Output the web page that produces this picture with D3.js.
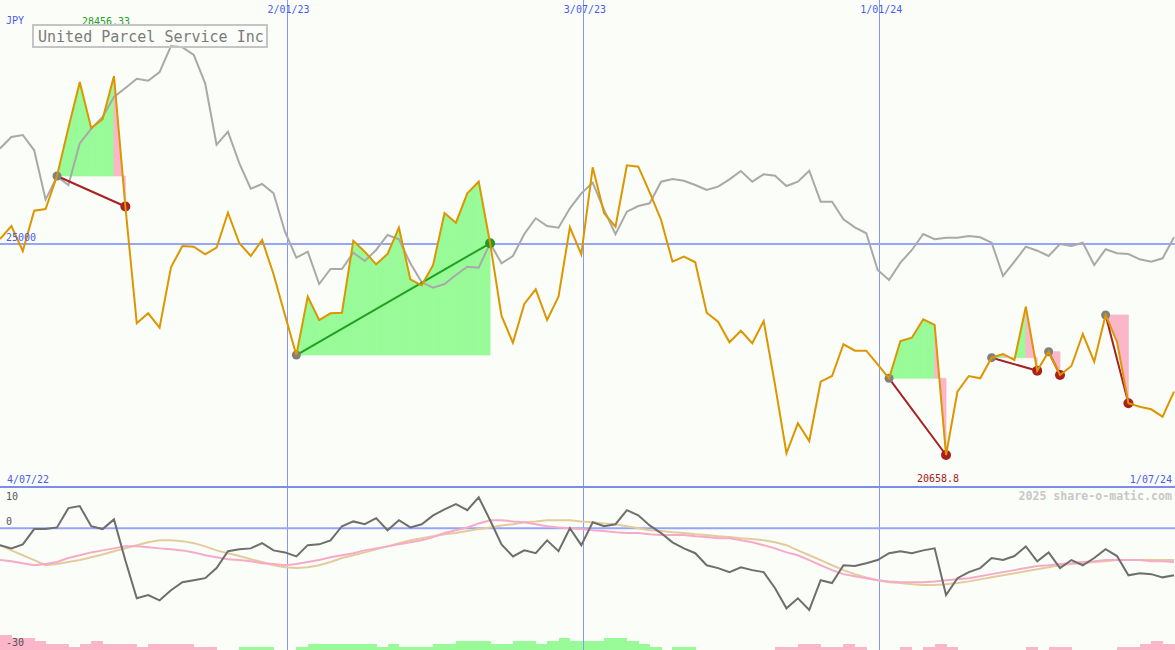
<!DOCTYPE html>
<html><head><meta charset="utf-8">
<script src="https://cdn.jsdelivr.net/npm/d3@7"></script>
<style>html,body{margin:0;padding:0;background:#fbfdf9;overflow:hidden}</style>
</head><body><svg id="c" width="1175" height="650"></svg>
<script>
// ---------- data ----------
const title = "United Parcel Service Inc";
const currency = "JPY";
const startDate = "2022-07-10";           // first weekly point
const startLabel = "4/07/22";
const endLabel = "1/07/24";
const gridDates = ["2023-01-02", "2023-07-03", "2024-01-01"];
const gridLabels = ["2/01/23", "3/07/23", "1/01/24"];
const refLevel = 25000;
const priceMin = 20658.8;
const priceMax = 28456.33;

// weekly closing price (JPY)
const price = [
 25103,25370,24856,25685,25720,26399,27387,28333,27387,27566,
 28456.33,25771,23369,23574,23278,24521,24959,24945,24788,24924,
 25644,25015,24753,25082,24377,23539,22716,23916,23436,23574,
 23587,25068,24842,24582,24794,25335,24274,24150,24568,25638,
 25438,26043,26282,25015,23519,22969,23766,24068,23436,23916,
 25344,24788,26578,25632,25356,26619,26591,26064,25494,24636,
 24739,24624,23587,23401,22978,23216,22957,23416,22099,20694,
 21311,20947,22167,22284,22937,22805,22805,22525,22237,23004,
 23072,23451,23334,20658.8,21961,22284,22237,22661,22737,22614,
 23710,22393,22784,22305,22490,23148,22579,23539,22990,21723,
 21653,21599,21447,21961
];
// comparison line (rebased)
const compare = [
 26965,27202,27243,26928,25914,26389,26214,27072,27366,27613,
 28024,28210,28399,28360,28535,29074,29047,28889,28306,27043,
 27311,26660,26136,26235,26043,25253,24718,24842,24177,24486,
 24486,24821,24650,24877,25185,25097,24603,24212,24101,24177,
 24362,24533,24512,25015,24603,24753,25206,25529,25370,25335,
 25735,26043,26261,25700,25200,25665,25782,25837,26282,26337,
 26302,26214,26111,26179,26331,26502,26282,26434,26405,26193,
 26282,26508,25870,25870,25508,25344,25220,24465,24259,24615,
 24877,25206,25097,25130,25130,25165,25138,25027,24342,24636,
 24945,24862,24753,25000,24959,25027,24568,24891,24809,24794,
 24685,24636,24706,25138
];
// trades: entry / exit week index
const tradeEntry = [5, 26, 78, 87, 92, 97];
const tradeExit  = [11, 43, 83, 91, 93, 99];

// lower panel
const oscTicks = [10, 0, -30];
const osc = [
 -4.2,-5,-4,-0.2,-0.2,0.2,5,5.5,0.5,-0.2,
 2.2,-8,-17.4,-16.6,-17.9,-15.4,-13.4,-12.9,-12.4,-9.9,
 -5.7,-5.2,-5,-3.7,-5.5,-6,-7,-4.2,-4,-3,
 0.5,1.7,1,2.5,-0.5,2,0.2,1,3.2,4.7,
 6,4.5,7.7,2,-4,-7,-5.5,-6.2,-3,-5.7,
 0,-4.2,1.5,0.5,1,4.5,3.2,0.7,-1.2,-3.5,
 -5,-6.2,-9.2,-9.9,-10.9,-9.7,-10.4,-10.9,-14.9,-19.9,
 -17.4,-20.3,-12.9,-13.6,-9.2,-9.4,-8.7,-7.9,-6.2,-5.7,
 -6.2,-5.5,-5,-16.6,-12.4,-10.9,-9.9,-7.4,-7.9,-6.9,
 -4.5,-8.2,-6,-9.9,-7.9,-9.2,-7.4,-5.2,-6.9,-11.7,
 -11.2,-11.4,-12.2,-11.7
];
const oscPink = [
 -7.9,-8.2,-8.7,-9.2,-8.9,-8.4,-7.4,-6.7,-6.0,-5.5,
 -5.0,-4.5,-4.5,-4.7,-5.0,-5.2,-5.5,-6.0,-6.7,-7.2,
 -7.7,-7.9,-8.2,-8.7,-8.9,-9.2,-8.9,-8.4,-7.9,-7.2,
 -6.7,-6.2,-5.5,-5.0,-4.5,-4.0,-3.5,-3.0,-2.2,-1.2,
 -0.5,0.2,1.2,2.0,2.0,1.7,1.5,1.0,0.5,0.2,
 0,-0.2,-0.5,-0.7,-1.0,-1.2,-1.2,-1.5,-1.7,-1.7,
 -1.7,-2.0,-2.2,-2.5,-2.5,-3.0,-3.5,-4.2,-5.0,-6.0,
 -6.7,-7.9,-9.2,-10.4,-11.4,-11.9,-12.4,-12.9,-13.2,-13.4,
 -13.4,-13.4,-13.2,-12.9,-12.7,-12.4,-11.9,-11.4,-10.9,-10.4,
 -9.9,-9.4,-9.2,-8.9,-8.7,-8.4,-8.2,-7.9,-7.9,-7.9,
 -7.9,-8.2,-8.2,-8.4
];
const oscTan = [
 -4.2,-5.5,-6.7,-7.9,-9.2,-8.9,-8.4,-7.9,-7.2,-6.5,
 -5.7,-5.0,-4.2,-3.5,-3.0,-3.0,-3.2,-3.7,-4.5,-5.5,
 -6.2,-6.9,-7.7,-8.4,-9.2,-9.7,-9.9,-9.7,-9.2,-8.4,
 -7.4,-6.7,-6.0,-5.2,-4.5,-3.7,-3.0,-2.5,-2.0,-1.5,
 -1.2,-0.7,-0.2,0.2,0.7,1.0,1.5,1.7,2.0,2.0,
 2.0,1.7,1.5,1.2,1.0,0.5,0,-0.5,-0.7,-1.0,
 -1.2,-1.5,-1.7,-2.0,-2.2,-2.5,-2.7,-3.0,-3.5,-4.2,
 -5.5,-6.7,-7.9,-9.2,-10.4,-11.4,-12.2,-12.9,-13.4,-13.6,
 -13.9,-14.1,-14.1,-13.9,-13.6,-13.2,-12.7,-12.2,-11.7,-11.2,
 -10.7,-10.2,-9.7,-9.2,-8.9,-8.7,-8.4,-8.2,-7.9,-7.9,
 -7.9,-7.9,-7.9,-7.9
];
// weekly bar level (signed: + green, - pink)
const barLevel = [
 -5,-4,-4,-3,-2,-2,-1,-2,-3,-2,
 -2,-2,-1,-2,-2,-2,-2,-1,-1,0,
 0,1,1,1,0,0,1,2,2,2,
 2,2,2,1,2,1,1,1,2,2,
 3,3,3,2,2,3,3,2,3,4,
 3,3,3,4,4,3,2,1,0,1,
 1,0,0,0,0,0,0,0,-1,-1,
 -2,-2,-1,-1,-2,-1,0,0,0,-1,
 0,-1,-2,-1,0,0,0,0,0,0,
 -1,0,-1,-1,0,0,0,0,-1,-1,
 -2,-3,-2,-2
];

// ---------- chart ----------
const W = 1175, H = 650;
const svg = d3.select("#c");
const bg = "#fbfdf9";
svg.append("rect").attr("width", W).attr("height", H).attr("fill", bg);

const parse = d3.utcParse("%Y-%m-%d");
const d0 = parse(startDate);
const dates = price.map((_, i) => d3.utcDay.offset(d0, 7 * i));
const x = d3.scaleUtc().domain([dates[0], dates[dates.length - 1]]).range([0, 1174]);
const y = d3.scaleLinear().domain([priceMin, priceMax]).range([455, 76]);
const yo = d3.scaleLinear().domain([-30, 10]).range([649, 488]);
const hb = d3.scaleLinear().domain([0, 5]).range([0, 15]);

const mono = "DejaVu Sans Mono, Liberation Mono, monospace";
const gridBlue = "#97a5f6";
const vGridBlue = "#8796fa";
const labelBlue = "#4a5cf0";
const green = "#98fb98", pink = "#fbb6c9";

// weekly bars at bottom
svg.append("g").attr("shape-rendering", "crispEdges").selectAll("rect")
  .data(barLevel.map((v, i) => ({v, i})).filter(d => d.v !== 0))
  .join("rect")
  .attr("x", d => x(dates[d.i]))
  .attr("width", d => x(d3.utcDay.offset(dates[d.i], 7)) - x(dates[d.i]) + 0.5)
  .attr("y", d => H - hb(Math.abs(d.v)))
  .attr("height", d => hb(Math.abs(d.v)))
  .attr("fill", d => d.v > 0 ? green : pink);

// vertical grid lines
const gd = gridDates.map(parse);
svg.append("g").selectAll("line").data(gd).join("line")
  .attr("x1", d => Math.round(x(d)) + 0.5).attr("x2", d => Math.round(x(d)) + 0.5)
  .attr("y1", 0).attr("y2", H)
  .attr("stroke", vGridBlue).attr("stroke-width", 1).attr("shape-rendering", "crispEdges");
svg.append("g").selectAll("text").data(gd).join("text")
  .attr("x", d => x(d) + 2).attr("y", 12.5)
  .attr("text-anchor", "middle").attr("font-family", mono).attr("font-size", 10)
  .attr("fill", labelBlue).text((d, i) => gridLabels[i]);

// reference level
svg.append("line").attr("x1", 0).attr("x2", W)
  .attr("y1", y(refLevel)).attr("y2", y(refLevel))
  .attr("stroke", gridBlue).attr("stroke-width", 2);

// trade fills
const fills = svg.append("g");
tradeEntry.forEach((e, t) => {
  const xEnd = tradeExit[t];
  const E = price[e];
  for (let j = e; j < xEnd; j++) {
    const pts = [
      [x(dates[j]), y(E)], [x(dates[j]), y(price[j])],
      [x(dates[j + 1]), y(price[j + 1])], [x(dates[j + 1]), y(E)]
    ];
    const c = price[j + 1] >= E ? green : pink;
    fills.append("path").attr("d", "M" + pts.join("L") + "Z")
      .attr("fill", c).attr("stroke", c).attr("stroke-width", 0.7);
  }
});

// comparison line
const line = d3.line().x((d, i) => x(dates[i])).y(d => y(d));
svg.append("path").attr("d", line(compare)).attr("fill", "none")
  .attr("stroke", "#a9a9a9").attr("stroke-width", 2);

// trade lines and markers
const tg = svg.append("g");
tradeEntry.forEach((e, t) => {
  const xi = tradeExit[t];
  const win = price[xi] >= price[e];
  tg.append("line")
    .attr("x1", x(dates[e])).attr("y1", y(price[e]))
    .attr("x2", x(dates[xi])).attr("y2", y(price[xi]))
    .attr("stroke", win ? "#22a022" : "#a52222").attr("stroke-width", 2);
  tg.append("circle").attr("cx", x(dates[e])).attr("cy", y(price[e])).attr("r", 4.5)
    .attr("fill", "#808080");
  tg.append("circle").attr("cx", x(dates[xi])).attr("cy", y(price[xi])).attr("r", 5)
    .attr("fill", win ? "#229922" : "#a82020");
});

// price line
svg.append("path").attr("d", line(price)).attr("fill", "none")
  .attr("stroke", "#dc9600").attr("stroke-width", 2).attr("stroke-linejoin", "miter");

// labels main
svg.append("text").attr("x", 6).attr("y", 241).attr("font-family", mono).attr("font-size", 10)
  .attr("fill", labelBlue).text(d3.format("d")(refLevel));
svg.append("text").attr("x", 6).attr("y", 24).attr("font-family", mono).attr("font-size", 10)
  .attr("fill", labelBlue).text(currency);
const iMax = price.indexOf(d3.max(price)), iMin = price.indexOf(d3.min(price));
svg.append("text").attr("x", x(dates[iMax]) - 8).attr("y", 25).attr("text-anchor", "middle")
  .attr("font-family", mono).attr("font-size", 10).attr("fill", "#22a022")
  .text(String(price[iMax]));
svg.append("text").attr("x", x(dates[iMin]) - 8).attr("y", 482).attr("text-anchor", "middle")
  .attr("font-family", mono).attr("font-size", 10).attr("fill", "#a82020")
  .text(String(price[iMin]));
svg.append("text").attr("x", 7).attr("y", 483).attr("font-family", mono).attr("font-size", 10)
  .attr("fill", labelBlue).text(startLabel);
svg.append("text").attr("x", 1172).attr("y", 483).attr("text-anchor", "end")
  .attr("font-family", mono).attr("font-size", 10).attr("fill", labelBlue).text(endLabel);

// title box
svg.append("rect").attr("x", 33).attr("y", 25).attr("width", 234).attr("height", 22)
  .attr("fill", "none").attr("stroke", "#c4c4c4").attr("stroke-width", 2);
svg.append("text").attr("x", 38).attr("y", 41.5).attr("font-family", mono).attr("font-size", 15)
  .attr("fill", "#7a7a7a").text(title);

// panel separator
svg.append("line").attr("x1", 0).attr("x2", W).attr("y1", 487).attr("y2", 487)
  .attr("stroke", "#7d8ce8").attr("stroke-width", 2);

// lower panel
svg.append("line").attr("x1", 0).attr("x2", W).attr("y1", yo(0)).attr("y2", yo(0))
  .attr("stroke", gridBlue).attr("stroke-width", 2);
const lo = d3.line().x((d, i) => x(dates[i])).y(d => yo(d));
svg.append("path").attr("d", lo(oscTan)).attr("fill", "none").attr("stroke", "#e2cc9c").attr("stroke-width", 2);
svg.append("path").attr("d", lo(oscPink)).attr("fill", "none").attr("stroke", "#f7aac8").attr("stroke-width", 2);
svg.append("path").attr("d", lo(osc)).attr("fill", "none").attr("stroke", "#6e6e6e").attr("stroke-width", 2);

const tickOff = {"10": 12, "0": -3, "-30": -3};
svg.append("g").selectAll("text").data(oscTicks).join("text")
  .attr("x", 6).attr("y", d => yo(d) + tickOff[String(d)])
  .attr("font-family", mono).attr("font-size", 10).attr("fill", "#555")
  .text(d => d);

svg.append("text").attr("x", 1172).attr("y", 500).attr("text-anchor", "end")
  .attr("font-family", mono).attr("font-size", 11.6).attr("font-weight", "bold")
  .attr("fill", "#c8c8c8").text("2025 share-o-matic.com");
</script></body></html>
